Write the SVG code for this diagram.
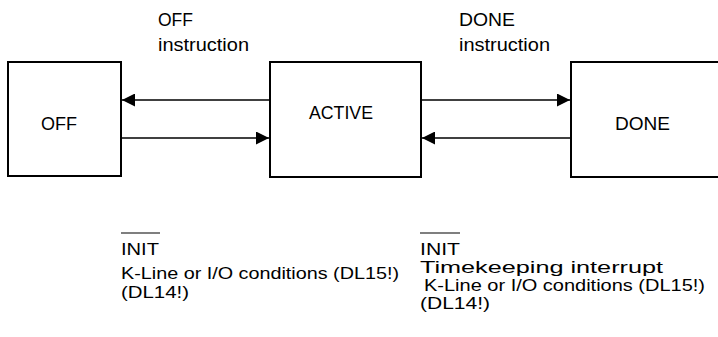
<svg xmlns="http://www.w3.org/2000/svg" width="718" height="337" viewBox="0 0 718 337">
<style>
.box{fill:#fff;stroke:#000;stroke-width:2}
.t{font-family:"Liberation Sans",Arial,sans-serif;font-size:18px;fill:#000}
.s{font-family:"Liberation Sans",Arial,sans-serif;font-size:16px;fill:#000}
.c{stroke:#000;stroke-width:1.5;fill:none}
</style>
<defs>
<marker id="ah" markerUnits="userSpaceOnUse" markerWidth="14" markerHeight="13" refX="13" refY="6.5" orient="auto">
<path d="M0,0 L13,6.5 L0,13 z" fill="#000"/>
</marker>
</defs>
<rect width="718" height="337" fill="#fff"/>
<g id="node-off">
<rect class="box" x="8" y="62" width="113" height="114"/>
<text class="t" x="41" y="130" textLength="36" lengthAdjust="spacingAndGlyphs">OFF</text>
</g>
<g id="node-active">
<rect class="box" x="270" y="62" width="151" height="115"/>
<text class="t" x="309" y="119" textLength="64" lengthAdjust="spacingAndGlyphs">ACTIVE</text>
</g>
<g id="node-done">
<rect class="box" x="571" y="62" width="160" height="115"/>
<text class="t" x="615" y="130" textLength="55" lengthAdjust="spacingAndGlyphs">DONE</text>
</g>
<g id="connectors">
<line class="c" x1="270" y1="100" x2="122" y2="100" marker-end="url(#ah)"/>
<line class="c" x1="121" y1="138" x2="269" y2="138" marker-end="url(#ah)"/>
<line class="c" x1="421" y1="100" x2="570" y2="100" marker-end="url(#ah)"/>
<line class="c" x1="571" y1="138" x2="422" y2="138" marker-end="url(#ah)"/>
</g>
<g id="labels">
<text class="t" x="158" y="26" textLength="35" lengthAdjust="spacingAndGlyphs">OFF</text>
<text class="t" x="158" y="51" textLength="91" lengthAdjust="spacingAndGlyphs">instruction</text>
<text class="t" x="459" y="26" textLength="56" lengthAdjust="spacingAndGlyphs">DONE</text>
<text class="t" x="459" y="51" textLength="91" lengthAdjust="spacingAndGlyphs">instruction</text>
<line x1="121" y1="233" x2="160" y2="233" stroke="#000" stroke-width="1.2"/>
<text class="s" x="121" y="255" textLength="38" lengthAdjust="spacingAndGlyphs">INIT</text>
<text class="s" x="121" y="279" textLength="278" lengthAdjust="spacingAndGlyphs">K-Line or I/O conditions (DL15!)</text>
<text class="s" x="121" y="298" textLength="68" lengthAdjust="spacingAndGlyphs">(DL14!)</text>
<line x1="420" y1="233" x2="460" y2="233" stroke="#000" stroke-width="1.2"/>
<text class="s" x="420" y="255" textLength="40" lengthAdjust="spacingAndGlyphs">INIT</text>
<text class="s" x="420" y="273" textLength="243" lengthAdjust="spacingAndGlyphs">Timekeeping interrupt</text>
<text class="s" x="424" y="291" textLength="281" lengthAdjust="spacingAndGlyphs">K-Line or I/O conditions (DL15!)</text>
<text class="s" x="420" y="309" textLength="70" lengthAdjust="spacingAndGlyphs">(DL14!)</text>
</g>
</svg>
